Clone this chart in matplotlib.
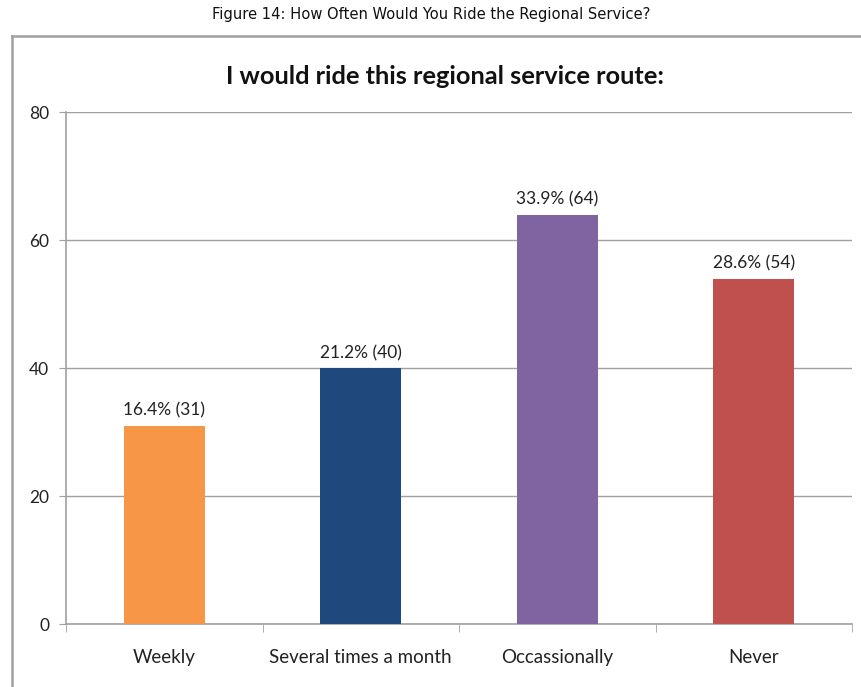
import matplotlib.pyplot as plt
from matplotlib.lines import Line2D
import numpy as np

categories = ['Weekly', 'Several times a month', 'Occassionally', 'Never']
counts = [31, 40, 64, 54]
percents = [16.4, 21.2, 33.9, 28.6]
colors = ['#F79646', '#1F497D', '#8064A2', '#C0504D']
yticks = [0, 20, 40, 60, 80]

grey = '#A0A0A0'
plt.rcParams['font.family'] = ['Lato', 'DejaVu Sans']

fig = plt.figure(figsize=(8.62, 6.87), dpi=100)
ax = fig.add_axes([0.0766, 0.0917, 0.9118, 0.745])

x = np.arange(len(categories))
ax.bar(x, counts, width=0.41, color=colors, zorder=3)

for xi, c, p in zip(x, counts, percents):
    ax.annotate(f'{p}% ({c})', (xi, c), xytext=(0, 5), textcoords='offset points',
                ha='center', va='bottom', fontsize=12.5, color='#222222')

ax.set_xlim(-0.5, len(categories) - 0.5)
ax.set_ylim(0, 80)
ax.set_yticks(yticks)
ax.set_yticklabels([str(v) for v in yticks], fontsize=12.5, color='#222222')
ax.yaxis.grid(True, color=grey, linewidth=1, zorder=0)

ax.set_xticks(x)
ax.set_xticklabels(categories, fontsize=13.5, color='#222222')
ax.set_xticks(np.arange(-0.5, len(categories)), minor=True)
ax.tick_params(axis='x', which='major', length=0, pad=18)
ax.tick_params(axis='x', which='minor', length=6, color=grey, direction='out')
ax.tick_params(axis='y', length=5, color=grey, pad=7)

for side in ['top', 'right']:
    ax.spines[side].set_visible(False)
for side in ['left', 'bottom']:
    ax.spines[side].set_color(grey)
    ax.spines[side].set_linewidth(1.2)

# chart frame
fig.add_artist(Line2D([12 / 862, 1.0], [1 - 36 / 687] * 2, color=grey, linewidth=1.8,
                      transform=fig.transFigure))
fig.add_artist(Line2D([12 / 862] * 2, [0.0, 1 - 36 / 687], color=grey, linewidth=1.8,
                      transform=fig.transFigure))

fig.text(0.5, 1 - 14 / 687, 'Figure 14: How Often Would You Ride the Regional Service?',
         ha='center', va='center', fontsize=11.8, fontstretch='condensed',
         fontweight='medium', family=['DejaVu Sans'], color='#111111')
fig.text(445 / 862, 1 - 76 / 687, 'I would ride this regional service route:',
         ha='center', va='center', fontsize=18.3, fontweight='bold', color='#111111')

fig.savefig('out.png', dpi=100)
